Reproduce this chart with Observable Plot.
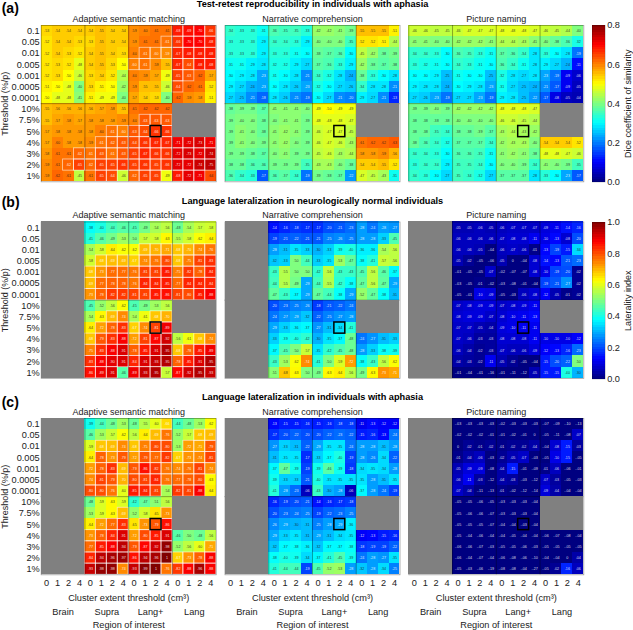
<!DOCTYPE html>
<html><head><meta charset="utf-8">
<script src="https://cdn.jsdelivr.net/npm/d3@7"></script>
<script src="https://cdn.jsdelivr.net/npm/@observablehq/plot@0.6"></script>
<style>
html,body{margin:0;padding:0;background:#fff;width:633px;height:630px;overflow:hidden}
#wrap{position:relative;width:633px;height:630px}
#wrap>svg{position:absolute;background:none}
</style></head><body><div id="wrap"></div>
<script>
const n = null;
const tasks = ["Adaptive semantic matching","Narrative comprehension","Picture naming"];
const panels = ["a","b","c"];
const panelLabels = ["(a)","(b)","(c)"];
const panelTitles = ["Test-retest reproducibility in individuals with aphasia","Language lateralization in neurologically normal individuals","Language lateralization in individuals with aphasia"];
const panelMax = [0.8,1,1];
const thresholds = ["0.1","0.05","0.01","0.005","0.001","0.0005","0.0001","10%","7.5%","5%","4%","3%","2%","1%"];
const extents = ["0","1","2","4"];
const regions = ["Brain","Supra","Lang+","Lang"];

// values in hundredths; rows = thresholds, columns = 4 regions x 4 extents
const aAdaptive = [
[53,54,54,54,54,55,54,54,59,60,61,61,68,69,70,66],
[52,54,54,53,53,55,54,54,59,61,61,61,66,70,70,68],
[52,54,53,52,54,55,54,53,60,61,60,59,67,68,68,68],
[52,53,52,48,54,55,53,50,60,61,59,55,67,64,68,68],
[52,53,50,46,53,54,52,44,60,59,57,49,65,63,62,57],
[51,50,48,40,53,51,50,42,59,55,55,46,64,62,61,52],
[50,48,48,41,51,49,49,40,57,54,53,40,62,59,58,51],
[55,56,56,56,56,57,58,55,61,62,62,62,n,n,n,n],
[55,57,58,57,58,58,58,59,60,63,63,63,n,n,n,n],
[57,58,58,58,58,60,61,60,63,64,66,66,n,n,n,n],
[57,60,58,58,59,61,62,63,64,66,67,67,71,72,73,71],
[58,61,61,62,61,63,61,63,65,67,66,66,72,73,72,74],
[59,61,62,65,62,65,65,66,65,66,65,66,72,72,74,75],
[59,62,61,45,61,65,64,46,62,65,65,49,68,72,71,64]];
const aNarrative = [
[34,33,33,31,36,35,35,33,42,42,41,39,55,55,55,51],
[33,33,33,29,34,34,33,29,40,40,40,35,52,52,51,44],
[33,33,33,29,33,33,31,30,38,37,36,30,45,42,38,39],
[31,31,29,28,32,32,29,27,37,36,33,29,42,38,37,38],
[30,29,28,23,31,30,28,21,34,32,28,24,38,33,30,28],
[29,27,24,23,30,28,26,23,32,30,27,26,34,28,28,21],
[27,25,21,18,28,26,21,19,30,27,21,20,29,27,21,13],
[38,39,39,37,41,41,41,40,49,50,49,49,n,n,n,n],
[39,40,40,38,40,41,41,39,48,48,48,47,n,n,n,n],
[39,41,40,38,41,42,41,39,46,47,47,45,n,n,n,n],
[39,41,40,39,41,42,40,39,46,47,46,43,61,62,62,63],
[39,39,38,37,40,41,39,39,45,46,43,44,58,58,59,56],
[38,38,36,36,39,39,39,35,43,43,40,38,54,54,55,52],
[36,34,33,17,36,37,34,19,39,38,37,22,47,45,43,31]];
const aPicture = [
[46,46,45,45,46,47,47,47,48,48,48,47,46,45,44,40],
[41,41,40,40,42,42,42,41,44,44,43,41,40,38,36,32],
[34,34,33,30,36,35,33,31,37,36,34,28,33,30,28,19],
[33,32,31,30,34,33,31,30,36,34,31,28,29,27,24,11],
[30,30,29,25,31,30,30,25,32,28,27,28,23,19,9,6],
[29,28,28,24,30,29,28,23,31,27,25,24,21,17,9,5],
[27,26,23,19,27,27,23,19,29,28,25,22,17,8,5,4],
[39,39,40,39,42,42,42,42,48,48,48,47,n,n,n,n],
[38,38,38,38,40,40,40,40,46,46,45,44,n,n,n,n],
[38,38,35,34,38,38,39,37,43,44,43,42,n,n,n,n],
[38,36,34,32,37,37,37,34,42,43,43,40,54,54,54,52],
[34,34,33,30,36,36,35,31,41,42,41,38,48,48,47,46],
[33,34,34,29,35,35,34,30,40,40,39,34,41,40,39,35],
[34,33,30,27,35,34,32,27,37,37,37,28,33,30,23,17]];
const bAdaptive = [
[n,n,n,n,38,40,44,46,45,49,54,56,48,54,57,58],
[n,n,n,n,41,46,49,53,50,57,58,63,55,58,62,64],
[n,n,n,n,54,58,64,62,62,69,70,71,68,70,74,76],
[n,n,n,n,58,68,69,69,67,74,76,80,68,75,81,83],
[n,n,n,n,68,73,77,77,76,81,81,85,75,82,78,84],
[n,n,n,n,69,77,78,78,76,84,84,85,77,84,84,84],
[n,n,n,n,73,78,82,82,81,81,85,86,81,80,85,88],
[n,n,n,n,45,52,56,62,45,49,53,56,n,n,n,n],
[n,n,n,n,54,63,69,74,54,61,68,70,n,n,n,n],
[n,n,n,n,64,72,78,83,67,74,81,89,n,n,n,n],
[n,n,n,n,68,79,83,88,72,81,87,92,56,61,68,74],
[n,n,n,n,75,83,88,91,78,85,91,95,68,78,85,89],
[n,n,n,n,83,88,90,91,84,91,93,95,78,85,91,95],
[n,n,n,n,86,89,91,46,89,93,95,57,87,92,95,93]];
const bNarrative = [
[n,n,n,n,14,16,18,17,17,20,21,23,28,24,28,27],
[n,n,n,n,19,21,22,21,21,25,26,25,28,28,33,45],
[n,n,n,n,28,31,35,33,30,33,39,40,36,36,54,56],
[n,n,n,n,32,33,50,44,33,35,53,47,38,41,57,56],
[n,n,n,n,43,55,50,50,42,56,43,43,45,56,46,37],
[n,n,n,n,44,55,49,29,44,55,42,38,47,56,47,29],
[n,n,n,n,47,43,37,29,47,44,38,29,52,47,38,31],
[n,n,n,n,20,23,25,26,18,21,22,24,n,n,n,n],
[n,n,n,n,24,27,29,32,22,25,27,28,n,n,n,n],
[n,n,n,n,29,33,36,37,27,31,34,41,n,n,n,n],
[n,n,n,n,33,39,40,42,30,35,37,48,24,27,31,33],
[n,n,n,n,37,45,50,57,35,42,45,48,28,33,38,39],
[n,n,n,n,43,53,62,74,41,50,59,72,38,43,56,62],
[n,n,n,n,51,68,63,50,49,63,64,56,49,63,73,71]];
const bPicture = [
[n,n,n,n,5,5,6,5,6,7,7,7,9,11,14,16],
[n,n,n,n,6,6,6,6,7,8,8,11,10,13,8,20],
[n,n,n,n,6,6,5,-4,6,7,6,1,13,19,15,34],
[n,n,n,n,5,2,-5,-6,5,0,-4,8,14,13,21,23],
[n,n,n,n,-1,-5,-5,7,-2,-7,-7,8,10,19,20,2],
[n,n,n,n,-3,-5,1,-2,-3,-8,-1,-4,19,21,27,2],
[n,n,n,n,-5,-1,10,9,-5,-3,6,8,12,5,1,2],
[n,n,n,n,7,8,9,9,7,8,9,11,n,n,n,n],
[n,n,n,n,8,9,9,7,8,10,11,13,n,n,n,n],
[n,n,n,n,7,7,5,4,9,10,11,11,n,n,n,n],
[n,n,n,n,7,6,3,3,8,8,8,11,10,10,10,12],
[n,n,n,n,6,4,2,3,7,6,6,9,12,13,16,23],
[n,n,n,n,4,3,2,11,5,2,-5,-4,15,20,22,50],
[n,n,n,n,-1,-4,-1,-16,-1,-11,-12,5,15,15,40,30]];
const cAdaptive = [
[n,n,n,n,39,44,48,53,48,55,60,66,44,48,53,62],
[n,n,n,n,46,53,57,62,56,64,69,76,52,57,68,69],
[n,n,n,n,59,68,69,74,68,75,80,80,53,72,71,79],
[n,n,n,n,64,78,73,79,72,79,77,82,67,73,74,81],
[n,n,n,n,72,78,83,69,79,86,82,76,74,76,81,74],
[n,n,n,n,74,81,79,70,80,81,84,76,77,78,80,63],
[n,n,n,n,80,80,76,60,85,84,81,54,82,81,88,64],
[n,n,n,n,48,59,63,59,42,47,51,56,n,n,n,n],
[n,n,n,n,53,59,63,69,52,58,65,73,n,n,n,n],
[n,n,n,n,64,72,77,83,65,73,79,86,n,n,n,n],
[n,n,n,n,73,78,84,91,72,80,85,91,46,50,48,56],
[n,n,n,n,77,85,88,94,79,87,92,98,52,56,60,71],
[n,n,n,n,84,94,96,97,86,94,96,100,67,73,78,88],
[n,n,n,n,93,98,98,74,93,99,100,76,82,88,96,88]];
const cNarrative = [
[n,n,n,n,13,15,15,16,15,16,18,18,11,13,12,12],
[n,n,n,n,17,20,22,20,20,22,23,22,15,16,13,24],
[n,n,n,n,27,33,31,22,29,35,35,24,28,28,31,28],
[n,n,n,n,31,35,35,17,33,37,40,19,28,26,34,22],
[n,n,n,n,37,47,39,19,39,46,39,18,34,35,34,28],
[n,n,n,n,39,33,33,21,40,35,35,35,35,28,31,35],
[n,n,n,n,41,28,23,6,43,30,28,6,37,28,24,19],
[n,n,n,n,16,19,20,21,14,16,17,18,n,n,n,n],
[n,n,n,n,20,23,24,25,19,22,23,25,n,n,n,n],
[n,n,n,n,26,29,30,31,25,28,29,36,n,n,n,n],
[n,n,n,n,29,33,35,31,29,31,34,35,12,13,15,16],
[n,n,n,n,32,37,38,36,32,37,37,38,18,19,19,22],
[n,n,n,n,38,40,39,34,37,41,45,39,24,28,27,35],
[n,n,n,n,41,44,44,19,45,52,53,28,32,28,34,25]];
const cPicture = [
[n,n,n,n,-3,-3,-3,-3,-2,-3,-3,-3,-7,-9,-10,-13],
[n,n,n,n,-2,-2,-2,-1,-1,-2,-1,0,-5,-11,-8,7],
[n,n,n,n,0,2,1,2,1,2,2,4,-4,8,15,3],
[n,n,n,n,1,4,6,-3,2,5,7,-3,-5,10,15,-5],
[n,n,n,n,5,9,9,-8,4,15,-1,-9,1,6,-6,-1],
[n,n,n,n,6,11,3,-12,4,3,-3,-12,7,3,-5,-3],
[n,n,n,n,7,4,-11,-13,1,-2,-12,-14,9,4,-4,-4],
[n,n,n,n,-5,-5,-6,-5,-3,-3,-3,-4,n,n,n,n],
[n,n,n,n,-5,-6,-6,-7,-3,-3,-3,-4,n,n,n,n],
[n,n,n,n,-5,-5,-5,-7,-4,-4,-3,-4,n,n,n,n],
[n,n,n,n,-5,-4,-6,-4,-4,-5,-4,-4,-6,-7,-8,-4],
[n,n,n,n,-6,-6,-7,-3,-5,-5,-6,-3,-5,-5,-5,-5],
[n,n,n,n,-6,-4,-7,-4,-6,-8,-6,-10,-4,-4,0,4],
[n,n,n,n,-5,-3,-6,-19,-8,-8,-4,-27,-5,2,16,6]];

const grids = [[aAdaptive,aNarrative,aPicture],[bAdaptive,bNarrative,bPicture],[cAdaptive,cNarrative,cPicture]];

// cells outlined in the first panel (significance regions); b and c outline from a cut-off
const aAdaptiveOutlined = [
"0000000000001111","0000000000011111","0000000001111111","0000000011001111",
"0000000000001100","0000000000001000","0000000000000000","0000000000000000",
"0000000001110000","0000001111110000","0000011111111111","0001111111111111",
"0011111111111111","0000011011101110"];
const outlineCut = 66;
const selected = {row:9, col:10};

function jet(t){
  const f = (x)=>Math.max(0,Math.min(1,x));
  const r = f(1.5-Math.abs(4*t-3)), g = f(1.5-Math.abs(4*t-2)), b = f(1.5-Math.abs(4*t-1));
  return `rgb(${Math.round(r*255)},${Math.round(g*255)},${Math.round(b*255)})`;
}
function fmt(h){
  if(h===0) return "0";
  if(h===100) return "1";
  const s = (Math.abs(h)/100).toFixed(2).slice(1);
  return (h<0?"-":"")+s;
}

const cells = [];
panels.forEach((p,pi)=>tasks.forEach((task,ti)=>grids[pi][ti].forEach((row,r)=>row.forEach((h,c)=>{
  const known = h!==null;
  const outlined = known && ti===0 && (pi===0 ? aAdaptiveOutlined[r][c]==="1" : h>=outlineCut);
  const v = known ? h/100 : null;
  cells.push({panel:p,task,r,c,h,known,outlined,
    tone: known ? Math.max(0,v/panelMax[pi]) : null,
    label: known ? fmt(h) : "",
    ink: !known ? "none" : (outlined || v/panelMax[pi]<0.3 || h>68) ? "#fff" : "#1a1a1a"});
}))));
const known = cells.filter(d=>d.known), missing = cells.filter(d=>!d.known);
const facetKeys = panels.flatMap(p=>tasks.map(task=>({panel:p,task})));
const titleRows = panels.map((p,i)=>({panel:p,task:tasks[1],text:panelTitles[i]}));
const labelRows = panels.map((p,i)=>({panel:p,task:tasks[0],text:panelLabels[i],dy:[-17,-19.7,-15.6][i]}));
const lastRow = tasks.map(task=>({panel:"c",task}));
const regionRows = tasks.flatMap(task=>regions.map((text,i)=>({panel:"c",task,text,x:i*4+2})));
const yTitleRows = panels.map(p=>({panel:p,task:tasks[0]}));

const colTicks = d3.range(16).map(i=>i+.5), rowTicks = d3.range(14).map(i=>i+.5);
const F = {fx:"task",fy:"panel"};

const main = Plot.plot({
  width:633,height:630,marginLeft:40.7,marginRight:49.7,marginTop:25,marginBottom:55.7,
  style:{fontFamily:"'Liberation Sans',Arial,sans-serif",fontSize:"9px",color:"#222",background:"transparent"},
  fx:{domain:tasks,axis:null,paddingInner:0.048,paddingOuter:0,round:false},
  fy:{domain:panels,axis:null,paddingInner:0.2045,paddingOuter:0,round:false},
  x:{domain:[0,16],axis:null},
  y:{domain:[14,0],axis:null},
  color:{type:"linear",domain:[0,1],interpolate:jet},
  marks:[
    Plot.rect(known,{...F,x1:"c",x2:d=>d.c+1,y1:"r",y2:d=>d.r+1,fill:"tone",shapeRendering:"crispEdges"}),
    Plot.rect(known.filter(d=>d.outlined),{...F,x1:"c",x2:d=>d.c+1,y1:"r",y2:d=>d.r+1,fill:"none",stroke:"#fff",strokeOpacity:.6,strokeWidth:.9}),
    Plot.text(known,{...F,x:d=>d.c+.5,y:d=>d.r+.5,text:"label",fill:"ink",fillOpacity:.85,fontSize:3.7}),
    Plot.ruleX(facetKeys.flatMap(k=>[4,8,12].map(x=>({...k,x}))),{...F,x:"x",stroke:"#000",strokeOpacity:.5,strokeWidth:.7}),
    Plot.ruleY(facetKeys.map(k=>({...k,y:7})),{...F,y:"y",stroke:"#000",strokeOpacity:.5,strokeWidth:.7}),
    Plot.frame({stroke:"#000",strokeOpacity:.4,strokeWidth:.8}),
    Plot.rect(missing,{...F,x1:"c",x2:d=>d.c+1,y1:"r",y2:d=>d.r+1,fill:"#808080",shapeRendering:"crispEdges"}),
    Plot.rect(facetKeys.map(k=>({...k})),{...F,x1:()=>selected.col,x2:()=>selected.col+1,y1:()=>selected.row,y2:()=>selected.row+1,fill:"none",stroke:"#000",strokeWidth:1.5}),
    Plot.axisY({ticks:rowTicks,tickFormat:(d,i)=>thresholds[Math.floor(d)],tickSize:0,tickPadding:1.5,fontSize:9.2,label:null,facetAnchor:"left",anchor:"left"}),
    Plot.axisX({ticks:colTicks,tickFormat:d=>extents[Math.floor(d)%4],tickSize:0,tickPadding:4.5,fontSize:9.2,label:null,facetAnchor:"bottom",anchor:"bottom"}),
    Plot.text(facetKeys,{...F,x:()=>8,y:()=>0,dy:-6.8,text:"task",fontSize:9,fill:"#222"}),
    Plot.text(titleRows,{...F,x:()=>8,y:()=>0,dy:-21,text:"text",fontSize:9.2,fontWeight:"bold",fill:"#000"}),
    Plot.text(labelRows.slice(0,1),{...F,x:()=>0,y:()=>0,dx:-39.5,dy:-17,text:"text",fontSize:14,fontWeight:"bold",fill:"#000",textAnchor:"start"}),
    Plot.text(labelRows.slice(1,2),{...F,x:()=>0,y:()=>0,dx:-39.5,dy:-19.7,text:"text",fontSize:14,fontWeight:"bold",fill:"#000",textAnchor:"start"}),
    Plot.text(labelRows.slice(2,3),{...F,x:()=>0,y:()=>0,dx:-39.5,dy:-15.6,text:"text",fontSize:14,fontWeight:"bold",fill:"#000",textAnchor:"start"}),
    Plot.text(yTitleRows,{...F,x:()=>0,y:()=>7,dx:-36.5,text:()=>"Threshold (%/p)",fontSize:9,rotate:-90,fill:"#222"}),
    Plot.text(lastRow,{...F,x:()=>8,y:()=>14,dy:23.5,text:()=>"Cluster extent threshold (cm³)",fontSize:9.2,fill:"#222"}),
    Plot.text(regionRows,{...F,x:"x",y:()=>14,dy:37.4,text:"text",fontSize:9.2,fill:"#222"}),
    Plot.text(lastRow,{...F,x:()=>8,y:()=>14,dy:50.4,text:()=>"Region of interest",fontSize:9.2,fill:"#222"})
  ]
});
main.style.left="0";main.style.top="0";
document.getElementById("wrap").append(main);

function colorbar(maxV,label,top){
  const levels = d3.range(64).map(i=>({a:i/64*maxV,b:(i+1)/64*maxV,t:(i+.5)/64}));
  const bar = Plot.plot({
    width:41,height:166.5,marginLeft:0,marginRight:28.3,marginTop:5,marginBottom:5,
    style:{fontFamily:"'Liberation Sans',Arial,sans-serif",fontSize:"9px",color:"#222",background:"transparent",overflow:"visible"},
    x:{axis:null},
    y:{domain:[0,maxV],axis:null},
    color:{type:"linear",domain:[0,1],interpolate:jet},
    marks:[
      Plot.rectY(levels,{y1:"a",y2:"b",fill:"t",shapeRendering:"crispEdges"}),
      Plot.frame({stroke:"#000",strokeOpacity:.3,strokeWidth:.6}),
      Plot.axisY({anchor:"right",ticks:d3.range(0,maxV+.01,.2),tickFormat:d3.format(".1f"),tickSize:0,tickPadding:2,fontSize:9.2,label:null}),
      Plot.text([label],{frameAnchor:"right",textAnchor:"middle",dx:23,rotate:-90,text:d=>d,fontSize:9,fill:"#222"})
    ]
  });
  bar.style.left="592.3px";bar.style.top=(top-5)+"px";
  document.getElementById("wrap").append(bar);
}
colorbar(panelMax[0],"Dice coefficient of similarity",25);
colorbar(panelMax[1],"Laterality index",221.7);
</script></body></html>
